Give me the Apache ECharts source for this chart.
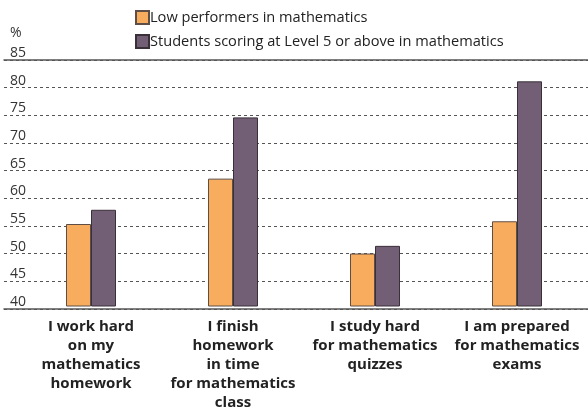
<!DOCTYPE html>
<html><head><meta charset="utf-8">
<script src="https://cdn.jsdelivr.net/npm/echarts@6/dist/echarts.min.js"></script>
<style>html,body{margin:0;padding:0;background:#fff}#c{width:588px;height:412px}</style>
</head><body><div id="c"></div>
<script>
const categories = [
  "I work hard\non my\nmathematics\nhomework",
  "I finish\nhomework\nin time\nfor mathematics\nclass",
  "I study hard\nfor mathematics\nquizzes",
  "I am prepared\nfor mathematics\nexams"
];
const seriesNames = ["Low performers in mathematics", "Students scoring at Level 5 or above in mathematics"];
const lowPerformers = [55.0, 63.3, 49.6, 55.5];
const level5Above = [57.6, 74.5, 51.0, 81.1];
const yMin = 40, yMax = 85, yStep = 5;

const FONT = "Open Sans";
const chart = echarts.init(document.getElementById('c'), null, {renderer: 'canvas'});
chart.setOption({
  animation: false,
  textStyle: {fontFamily: FONT},
  title: {text: "%", left: 10, top: 26, padding: 0, textStyle: {fontFamily: FONT, fontSize: 14, fontWeight: 'normal', color: '#333'}},
  legend: {
    orient: 'vertical', left: 130, top: 5, itemWidth: 13, itemHeight: 13, itemGap: 9,
    icon: 'rect',
    textStyle: {fontFamily: FONT, fontSize: 14.6, color: '#222', padding: [0,0,0,-4]},
    data: seriesNames
  },
  grid: [
    {left: 4, right: 0, top: 60, bottom: 103},
    {left: 20, width: 577, top: 60, bottom: 103}
  ],
  xAxis: [
    {type: 'value', gridIndex: 0, position: 'bottom', axisLine: {show: true, onZero: false, lineStyle: {color: '#555', width: 1.5}}, axisTick: {show: false}, axisLabel: {show: false}, splitLine: {show: false}},
    {type: 'value', gridIndex: 0, position: 'top', axisLine: {show: true, onZero: false, lineStyle: {color: '#555', width: 1.5}}, axisTick: {show: false}, axisLabel: {show: false}, splitLine: {show: false}},
    {type: 'category', gridIndex: 1, data: categories, axisLine: {show: false}, axisTick: {show: false},
     axisLabel: {interval: 0, margin: 11, fontFamily: FONT, fontSize: 15, fontWeight: 'bold', color: '#222', lineHeight: 19, align: 'center', verticalAlign: 'top'}}
  ],
  yAxis: [
    {type: 'value', gridIndex: 0, min: yMin, max: yMax, interval: yStep,
     axisLine: {show: false}, axisTick: {show: false},
     axisLabel: {inside: true, margin: 6, align: 'left', verticalAlign: 'bottom', padding: [0,0,0,0], fontFamily: FONT, fontSize: 14, color: '#333'},
     splitLine: {show: true, lineStyle: {color: '#555', type: [3, 3], width: 1}}},
    {type: 'value', gridIndex: 1, min: yMin, max: yMax, interval: yStep, show: false, splitLine: {show: false}}
  ],
  series: [
    {name: seriesNames[0], type: 'bar', xAxisIndex: 2, yAxisIndex: 1, data: lowPerformers, barWidth: 25, barGap: '0%',
     itemStyle: {color: '#F8AD5E', borderColor: '#5e4e46', borderWidth: 1}},
    {name: seriesNames[1], type: 'bar', xAxisIndex: 2, yAxisIndex: 1, data: level5Above, barWidth: 25, barGap: '0%',
     itemStyle: {color: '#725F75', borderColor: '#3a3038', borderWidth: 1}}
  ]
});
</script></body></html>
